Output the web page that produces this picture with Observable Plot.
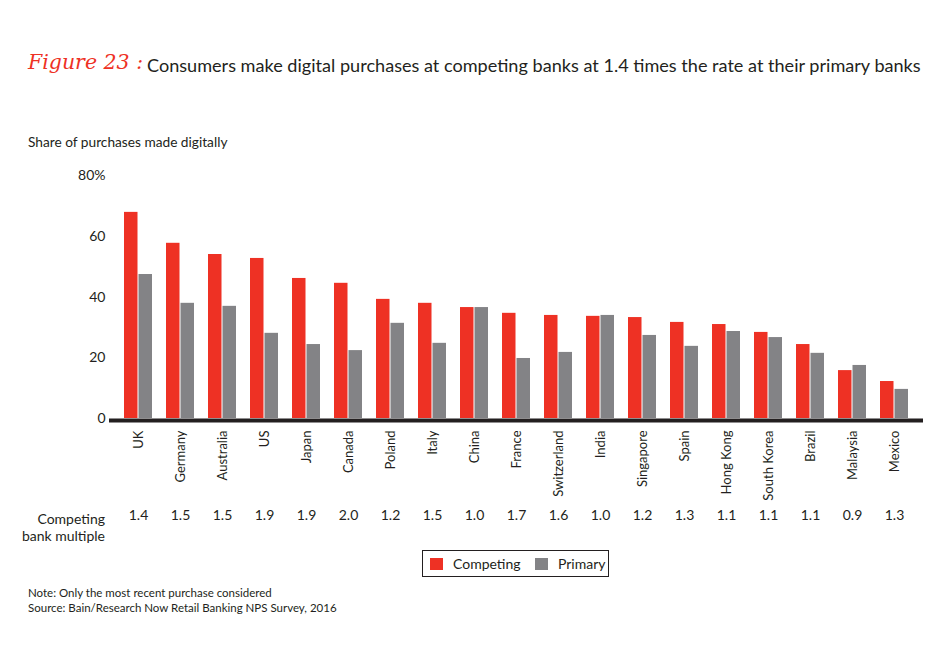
<!DOCTYPE html>
<html>
<head>
<meta charset="utf-8">
<script src="https://cdn.jsdelivr.net/npm/d3@7"></script>
<script src="https://cdn.jsdelivr.net/npm/@observablehq/plot@0.6"></script>
<style>
  html, body { margin: 0; padding: 0; background: #fff; }
  body { width: 950px; height: 645px; position: relative; overflow: hidden; font-family: Lato, "Noto Sans", sans-serif; color: #231f20; }
  .abs { position: absolute; white-space: nowrap; }
  #chart { position: absolute; left: 0; top: 0; }
  #fig { left: 28px; top: 50px; font-family: "DejaVu Serif", serif; font-style: italic; color: #ee3124; font-size: 20.5px; }
  #title { left: 147px; top: 54px; font-size: 18.1px; }
  #ylab { left: 28px; top: 133px; font-size: 13.7px; }
  #mult { right: 845px; top: 510px; font-size: 14px; text-align: right; line-height: 17px; }
  #legend { left: 422px; top: 550px; width: 185px; height: 25px; border: 1px solid #231f20; font-size: 14px; }
  #legend .sw { position: absolute; top: 7px; width: 13px; height: 12px; }
  #legend .lt { position: absolute; top: 4px; }
  #note { left: 28px; top: 585px; font-size: 11.5px; line-height: 15px; }
</style>
</head>
<body>
<div id="chart"></div>
<div class="abs" id="fig">Figure 23 :</div>
<div class="abs" id="title">Consumers make digital purchases at competing banks at 1.4 times the rate at their primary banks</div>
<div class="abs" id="ylab">Share of purchases made digitally</div>
<div class="abs" id="mult">Competing<br>bank multiple</div>
<div class="abs" id="legend"></div>
<div class="abs" id="note">Note: Only the most recent purchase considered<br>Source: Bain/Research Now Retail Banking NPS Survey, 2016</div>
<script>
const countries = ["UK","Germany","Australia","US","Japan","Canada","Poland","Italy","China","France","Switzerland","India","Singapore","Spain","Hong Kong","South Korea","Brazil","Malaysia","Mexico"];
const competing = [68.0,57.8,54.1,52.8,46.2,44.6,39.3,38.0,36.6,34.7,34.0,33.7,33.3,31.7,31.0,28.4,24.4,15.8,12.2];
const primary   = [47.5,38.0,37.0,28.1,24.4,22.4,31.4,24.8,36.6,19.8,21.8,34.0,27.4,23.8,28.7,26.7,21.5,17.5,9.6];
const multiples = ["1.4","1.5","1.5","1.9","1.9","2.0","1.2","1.5","1.0","1.7","1.6","1.0","1.2","1.3","1.1","1.1","1.1","0.9","1.3"];
const series = ["Competing","Primary"];
const colors = ["#ee3124","#838386"];
const yTicks = [0,20,40,60,80];

const chart = Plot.plot({
  width: 950,
  height: 645,
  marginLeft: 109,
  marginRight: 27,
  marginTop: 175.5,
  marginBottom: 227,
  style: {fontFamily: "Lato, 'Noto Sans', sans-serif", color: "#231f20", background: "transparent"},
  x: {type: "band", domain: countries, paddingInner: 0.333, paddingOuter: 0.35},
  y: {domain: [0, 80]},
  marks: [
    Plot.barY(countries, {x: d => d, y: (d, i) => competing[i], fill: colors[0], insetRight: 14.5}),
    Plot.barY(countries, {x: d => d, y: (d, i) => primary[i], fill: colors[1], insetLeft: 14.5}),
    Plot.ruleY([0], {stroke: "#231f20", strokeWidth: 4, dy: 2}),
    Plot.axisY({ticks: yTicks, tickSize: 0, tickPadding: 4, fontSize: 14, label: null,
      tickFormat: d => d === 80 ? "80%" : String(d)}),
    Plot.axisX({tickSize: 0, tickRotate: -90, tickPadding: 12, fontSize: 13, label: null}),
    Plot.text(countries, {x: d => d, text: (d, i) => multiples[i], frameAnchor: "bottom", dy: 101, fontSize: 14, fill: "#231f20"})
  ]
});
document.getElementById("chart").appendChild(chart);

const leg = document.getElementById("legend");
const swX = [7, 112], txX = [30, 135];
series.forEach((s, i) => {
  const sw = document.createElement("div");
  sw.className = "sw"; sw.style.left = swX[i] + "px"; sw.style.background = colors[i];
  const t = document.createElement("div");
  t.className = "lt"; t.style.left = txX[i] + "px"; t.textContent = s;
  leg.appendChild(sw); leg.appendChild(t);
});
</script>
</body>
</html>
